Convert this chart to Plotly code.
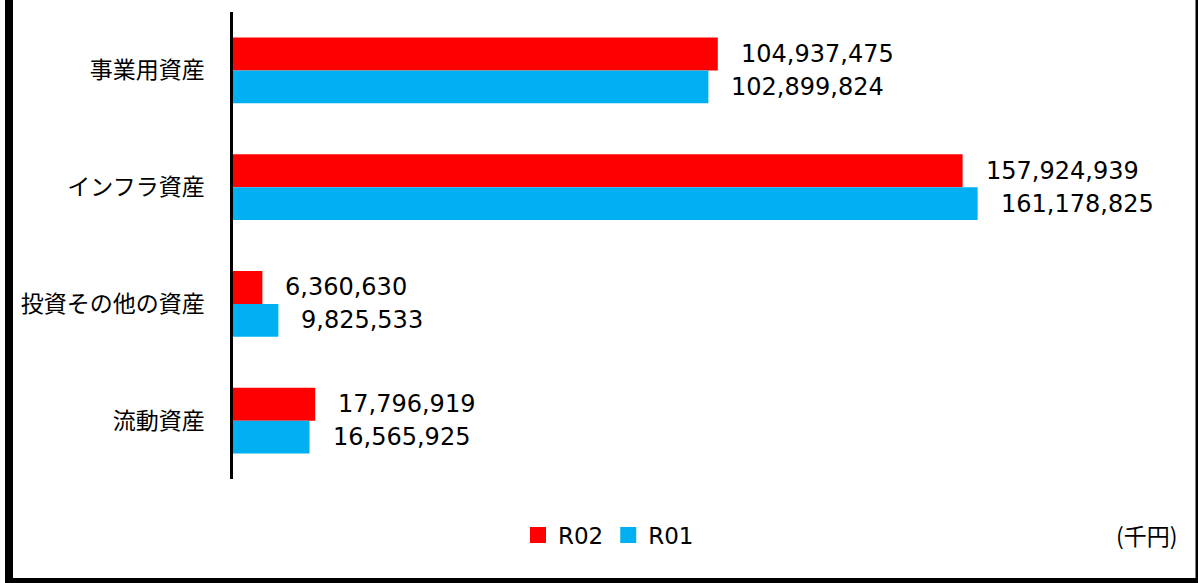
import plotly.graph_objects as go

categories = ["事業用資産", "インフラ資産", "投資その他の資産", "流動資産"]
r02_values = [104937475, 157924939, 6360630, 17796919]
r01_values = [102899824, 161178825, 9825533, 16565925]
series_names = ["R02", "R01"]

RED = "#FF0000"
CYAN = "#00B0F0"
NUM_FONT = "DejaVu Sans"
CJK_FONT = "Noto Sans CJK JP"

W, H = 1198, 583
ML, MR, MT, MB = 233, 41, 12, 104
PW = W - ML - MR
PH = H - MT - MB
BARGAP = 0.436

def px_x(p):
    return (p - ML) / PW

def px_y(p):
    return (H - MB - p) / PH

fig = go.Figure()
for name, vals, col in [(series_names[0], r02_values, RED), (series_names[1], r01_values, CYAN)]:
    fig.add_trace(go.Bar(
        x=vals, y=categories, orientation="h", name=name,
        marker=dict(color=col, line=dict(width=0)),
        showlegend=False, hoverinfo="skip",
    ))
    fig.add_trace(go.Scatter(
        x=[None], y=[None], mode="markers", name=name,
        marker=dict(symbol="square", size=16, color=col),
        showlegend=True,
    ))

off = (1 - BARGAP) / 4
annotations = []
for i, cat in enumerate(categories):
    for vals, sgn in [(r02_values, -1), (r01_values, 1)]:
        annotations.append(dict(
            x=vals[i], y=i + sgn * off, xref="x", yref="y",
            text=f"{vals[i]:,}", showarrow=False,
            xanchor="left", yanchor="middle", xshift=21,
            font=dict(family=NUM_FONT, size=24, color="#000000"),
        ))
annotations.append(dict(
    x=px_x(1147), y=px_y(535), xref="paper", yref="paper",
    text="(千円)", showarrow=False, xanchor="center", yanchor="middle",
    font=dict(family=CJK_FONT, size=23, color="#000000"),
))

shapes = [
    dict(type="rect", xref="paper", yref="paper",
         x0=px_x(5), x1=px_x(13), y0=px_y(583), y1=px_y(0),
         fillcolor="#000000", line=dict(width=0), layer="above"),
    dict(type="rect", xref="paper", yref="paper",
         x0=px_x(1195.5), x1=px_x(1198), y0=px_y(583), y1=px_y(0),
         fillcolor="#000000", line=dict(width=0), layer="above"),
    dict(type="rect", xref="paper", yref="paper",
         x0=px_x(5), x1=px_x(1198), y0=px_y(583), y1=px_y(578),
         fillcolor="#000000", line=dict(width=0), layer="above"),
]

fig.update_layout(
    width=W, height=H,
    margin=dict(l=ML, r=MR, t=MT, b=MB, pad=0, autoexpand=False),
    paper_bgcolor="white", plot_bgcolor="white",
    barmode="group", bargap=BARGAP, bargroupgap=0,
    xaxis=dict(range=[0, 200e6], visible=False, showgrid=False, zeroline=False,
               automargin=False),
    yaxis=dict(
        type="category", categoryarray=categories, autorange="reversed",
        showline=True, linecolor="#000000", linewidth=2.5,
        showgrid=False, zeroline=False, ticks="", automargin=False,
        ticklabelstandoff=21,
        tickfont=dict(family=CJK_FONT, size=23, color="#000000"),
    ),
    legend=dict(
        orientation="h", x=px_x(518), y=px_y(535),
        xanchor="left", yanchor="middle",
        font=dict(family=NUM_FONT, size=23, color="#000000"),
        bgcolor="rgba(0,0,0,0)", borderwidth=0,
        itemwidth=30, traceorder="normal",
    ),
    annotations=annotations,
    shapes=shapes,
)

fig.write_html("out.html")
